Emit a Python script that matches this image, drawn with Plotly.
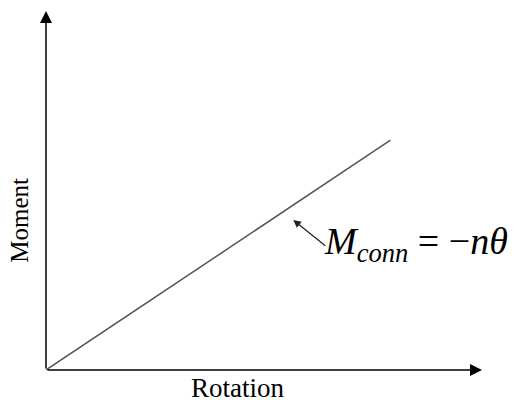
import plotly.graph_objects as go

# Linear moment-rotation relation (schematic)
rotation = [0, 0.79]
moment = [0, 0.64]

# axis extents (arrow tips)
x_max = 1.0
y_max = 1.0

SERIF = "Liberation Serif"

fig = go.Figure()

fig.add_trace(go.Scatter(
    x=rotation, y=moment, mode="lines",
    line=dict(color="#555555", width=1.5),
    hoverinfo="skip", showlegend=False,
))

# axes drawn as arrows
fig.add_annotation(x=x_max, y=0, ax=0, ay=0, xref="x", yref="y", axref="x", ayref="y",
                   showarrow=True, arrowhead=2, arrowsize=1.6, arrowwidth=1.5,
                   arrowcolor="black", text="")
fig.add_annotation(x=0, y=y_max, ax=0, ay=0, xref="x", yref="y", axref="x", ayref="y",
                   showarrow=True, arrowhead=2, arrowsize=1.6, arrowwidth=1.5,
                   arrowcolor="black", text="")

# pointer to the line
fig.add_annotation(x=0.567, y=0.418, ax=0.644, ay=0.343, xref="x", yref="y",
                   axref="x", ayref="y", showarrow=True, arrowhead=2,
                   arrowsize=1.3, arrowwidth=1.2, arrowcolor="#222222", text="")

# equation label
fig.add_annotation(x=0.633, y=0.35, xref="paper", yref="paper", xanchor="left", yanchor="middle",
                   showarrow=False,
                   text="<i>M</i><sub><i>conn</i></sub> = −<i>nθ</i>",
                   font=dict(family=SERIF, size=38, color="black"))

fig.add_annotation(x=0.44, y=-0.05, xref="paper", yref="paper", xanchor="center", yanchor="middle",
                   showarrow=False, text="Rotation",
                   font=dict(family=SERIF, size=27, color="black"))
fig.add_annotation(x=-0.06, y=0.418, xref="paper", yref="paper", xanchor="center", yanchor="middle",
                   showarrow=False, text="Moment", textangle=-90,
                   font=dict(family=SERIF, size=25, color="black"))

fig.update_xaxes(range=[0, 1], visible=False, fixedrange=True)
fig.update_yaxes(range=[0, 1], visible=False, fixedrange=True)

# page body adds an 8px offset, so the figure is a bit smaller than the window
fig.update_layout(
    width=513, height=392,
    margin=dict(l=38, r=39, t=3, b=30, autoexpand=False),
    paper_bgcolor="white", plot_bgcolor="white",
    showlegend=False,
)

fig.write_html("out.html")
